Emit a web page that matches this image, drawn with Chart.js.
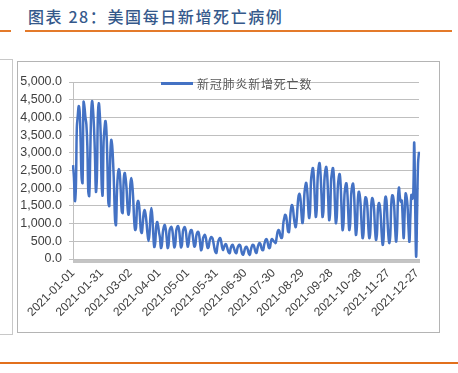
<!DOCTYPE html>
<html>
<head>
<meta charset="utf-8">
<script src="https://cdn.jsdelivr.net/npm/chart.js"></script>
<style>
  body { margin:0; width:458px; height:373px; overflow:hidden; background:#fff; position:relative; font-family:"Noto Sans CJK SC", sans-serif; }
  .title { position:absolute; left:28px; top:4px; font-size:16px; font-weight:500; color:#35598b; letter-spacing:1.6px; white-space:nowrap; }
  .rule0 { position:absolute; left:0; top:30px; width:11px; height:2px; background:#e47a2a; }
  .rule1 { position:absolute; left:25px; top:30px; width:427px; height:2px; background:#e47a2a; }
  .rule2 { position:absolute; left:0; top:362px; width:458px; height:2px; background:#e2701c; }
  .prev { position:absolute; left:-5px; top:59px; width:16px; height:274px; border:1px solid #c8c8c8; }
  .frame { position:absolute; left:17px; top:61px; width:421px; height:270px; border:1px solid #b4b4b4; }
  .wrap { position:absolute; left:18px; top:62px; width:420px; height:269px; }
  .legend { position:absolute; left:161px; top:76px; height:16px; white-space:nowrap; font-size:12px; color:#595959; letter-spacing:0.8px; }
  .legend span.swatch { position:absolute; left:0; top:6px; width:32px; height:3px; background:#4472c4; }
  .legend span.txt { position:absolute; left:36px; top:-1px; }
</style>
</head>
<body>
<div class="title">图表 28：美国每日新增死亡病例</div>
<div class="rule0"></div>
<div class="rule1"></div>
<div class="prev"></div>
<div class="frame"></div>
<div class="wrap"><canvas id="deathChart" width="420" height="269"></canvas></div>
<div class="legend"><span class="swatch"></span><span class="txt">新冠肺炎新增死亡数</span></div>
<div class="rule2"></div>
<script>
// daily values from 2021-01-01, one row per week
const deaths = [
  2650, 2300, 1640, 2000, 3700, 4050, 4320,
  4150, 3300, 2300, 2150, 4435, 4300, 4000,
  3800, 3200, 1900, 1780, 2900, 4100, 4460,
  4200, 3700, 2900, 1900, 2300, 4000, 4400,
  4100, 3500, 2100, 1800, 3300, 3700, 3900,
  3600, 2700, 1600, 1500, 2900, 3360, 3200,
  2700, 2000, 1100, 960, 1900, 2400, 2540,
  2400, 1900, 1350, 1300, 2200, 2430, 2300,
  2000, 1500, 1250, 1400, 2100, 2290, 2100,
  1700, 1100, 820, 900, 1500, 1640, 1550,
  1200, 800, 735, 1000, 1300, 1380, 1250,
  1000, 700, 510, 700, 1200, 1440, 1200,
  700, 340, 450, 900, 1045, 950, 750,
  600, 310, 400, 750, 900, 960, 850,
  600, 310, 400, 800, 880, 905, 800,
  550, 330, 420, 800, 900, 930, 820,
  560, 330, 400, 780, 870, 900, 800,
  550, 350, 450, 700, 800, 820, 720,
  500, 350, 400, 650, 750, 770, 680,
  450, 250, 320, 580, 650, 680, 600,
  420, 310, 350, 520, 600, 620, 580,
  450, 300, 200, 170, 350, 500, 570,
  590, 500, 330, 250, 330, 400, 420,
  350, 250, 180, 170, 300, 380, 400,
  340, 250, 180, 170, 300, 370, 400,
  380, 260, 150, 120, 200, 300, 340,
  330, 250, 150, 120, 250, 350, 400,
  390, 300, 200, 170, 300, 400, 450,
  430, 330, 250, 250, 400, 500, 560,
  540, 420, 310, 320, 480, 565, 540,
  500, 480, 450, 600, 760, 820, 780,
  650, 590, 650, 1000, 1150, 1250, 1200,
  1000, 780, 760, 1100, 1400, 1525, 1450,
  1200, 1000, 900, 1100, 1500, 1780, 1840,
  1700, 1300, 1015, 1200, 1800, 2050, 2150,
  1950, 1500, 1160, 1350, 2200, 2450, 2570,
  2300, 1700, 1190, 1400, 2300, 2600, 2710,
  2400, 1800, 1190, 1350, 2200, 2500, 2600,
  2350, 1700, 1100, 1300, 2200, 2450, 2570,
  2300, 1600, 1015, 1200, 2000, 2300, 2400,
  2100, 1400, 820, 1000, 1800, 2050, 2140,
  1900, 1300, 820, 1000, 1800, 2050, 2130,
  1850, 1200, 680, 900, 1650, 1900, 1800,
  1500, 950, 590, 750, 1500, 1740, 1700,
  1450, 900, 590, 750, 1500, 1720, 1650,
  1400, 850, 540, 700, 1400, 1580, 1500,
  1200, 700, 400, 600, 1500, 1760, 1650,
  1100, 650, 450, 700, 1550, 1800, 1750,
  1500, 900, 490, 800, 1700, 2020, 1750,
  1620, 1650, 1100, 590, 1300, 1850, 1750,
  1500, 900, 490, 1200, 1810, 1700, 1840,
  3290, 1500, 65, 1300, 2700, 3030
];

const tickLabels = ['2021-01-01','2021-01-31','2021-03-02','2021-04-01','2021-05-01','2021-05-31',
  '2021-06-30','2021-07-30','2021-08-29','2021-09-28','2021-10-28','2021-11-27','2021-12-27'];

const seriesName = '新冠肺炎新增死亡数';

const dates = [];
for (let i = 0; i < deaths.length; i++) {
  const d = new Date(Date.UTC(2021, 0, 1 + i));
  dates.push(d.toISOString().slice(0, 10));
}

const axisFont = { family: '"Liberation Sans", Arial, sans-serif', size: 12 };

new Chart(document.getElementById('deathChart'), {
  type: 'line',
  data: {
    labels: dates,
    datasets: [{
      label: seriesName,
      data: deaths,
      borderColor: '#4472c4',
      backgroundColor: '#4472c4',
      borderWidth: 2.5,
      pointRadius: 0,
      tension: 0.4,
      fill: false
    }]
  },
  options: {
    responsive: false,
    animation: false,
    layout: { padding: { top: 20, right: 19, left: 0, bottom: 0 } },
    plugins: { legend: { display: false }, tooltip: { enabled: false } },
    scales: {
      x: {
        type: 'category',
        offset: false,
        grid: { drawOnChartArea: false, drawTicks: true, tickLength: 4, color: '#c4c4c4' },
        border: { display: true, color: '#bfbfbf' },
        ticks: {
          autoSkip: false, minRotation: 45, maxRotation: 45, padding: 3,
          color: '#404040', font: axisFont,
          callback: (v, i) => tickLabels.includes(dates[i]) ? dates[i] : ''
        },
        afterFit: s => { s.height = 72; }
      },
      y: {
        min: 0, max: 5000,
        grid: { color: '#bfbfbf', tickLength: 4 },
        border: { display: true, color: '#bfbfbf' },
        ticks: {
          stepSize: 500, autoSkip: false, padding: 7, color: '#404040',
          font: { family: '"Liberation Sans", Arial, sans-serif', size: 12.5 },
          callback: v => v.toLocaleString('en-US', { minimumFractionDigits: 1, maximumFractionDigits: 1 })
        },
        afterFit: s => { s.width = 55; }
      }
    }
  }
});
</script>
</body>
</html>
